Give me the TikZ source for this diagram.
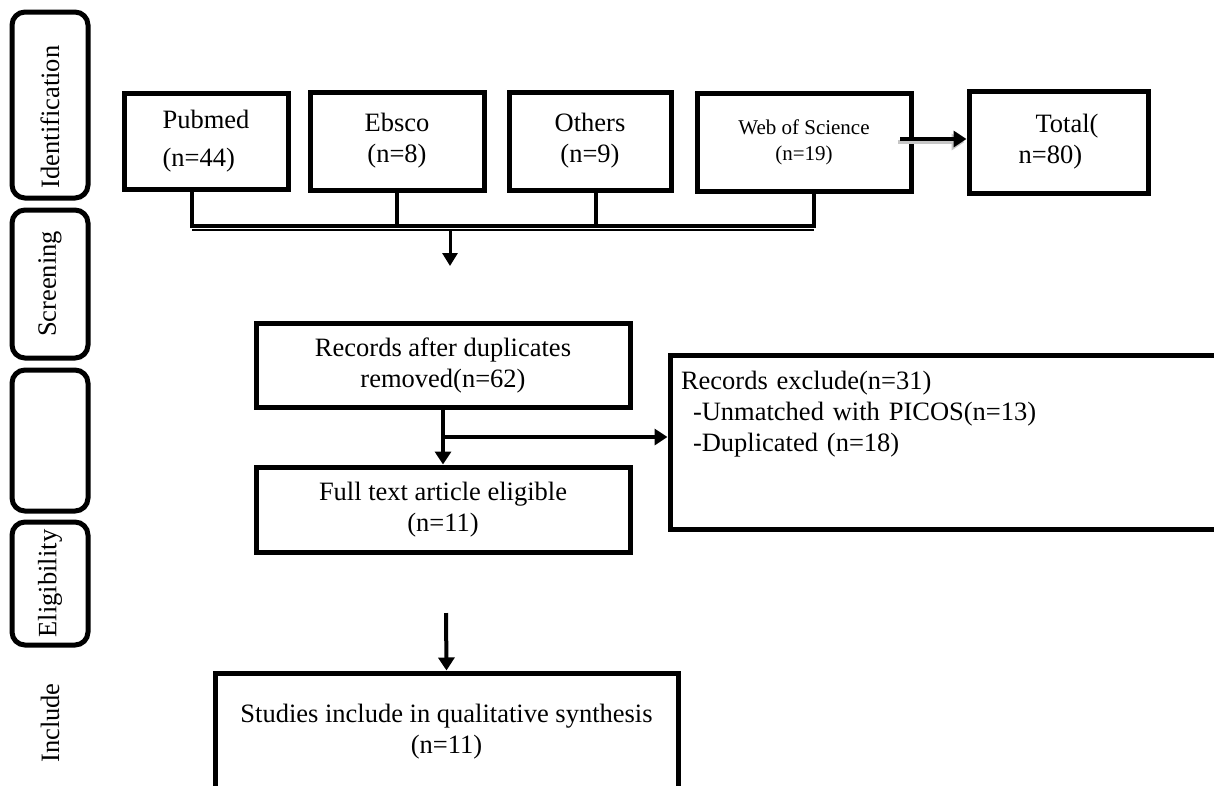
\documentclass[tikz,border=0pt]{standalone}
\usepackage{fontspec}
\setmainfont{Liberation Serif}
\usetikzlibrary{arrows.meta}

\begin{document}
\begin{tikzpicture}[x=1pt, y=-1pt,
  every node/.style={font=\fontsize{26.5}{31}\selectfont, inner sep=0pt},
  src/.style={draw, line width=5pt, align=center},
  stage/.style={draw, line width=5pt, rounded corners=13pt, rotate=90, minimum height=76pt},
  conn/.style={line width=4pt},
  arr/.style={line width=4pt, -{Triangle[length=13pt, width=16pt]}}]

  \useasboundingbox (0,0) rectangle (1214,785);
  \clip (0,0) rectangle (1214,785);

  % Stages down the left side
  \node[stage, minimum width=186pt] (ident) at (50,105) {Identification\hspace*{24pt}};
  \node[stage, minimum width=148pt] (screen) at (50,284) {Screening};
  \node[stage, minimum width=141pt] (blank) at (50,440.5) {};
  \node[stage, minimum width=123pt] (elig) at (50,583.5) {Eligibility};
  \node[rotate=90] (incl) at (50,723) {Include};

  % Databases
  \node[src, align=left, minimum width=164pt, minimum height=96pt] (pubmed) at (206,141) {Pubmed\\[7pt](n=44)};
  \node[src, minimum width=174pt, minimum height=98pt] (ebsco) at (397,141) {Ebsco\\(n=8)};
  \node[src, minimum width=162pt, minimum height=98pt] (others) at (590,141) {Others\\(n=9)};
  \node[src, minimum width=214pt, minimum height=98pt, font=\fontsize{21}{26}\selectfont] (wos) at (804,142) {Web of Science\\(n=19)};
  \draw[line width=4pt] ([yshift=-3pt]wos.north west) -- ([yshift=-3pt]wos.north east);
  \node[src, align=left, minimum width=179pt, minimum height=102pt] (total) at (1058.5,142) {\hspace*{17pt}Total(\\n=80)};

  % Screening and eligibility
  \node[src, minimum width=374pt, minimum height=84pt] (records) at (443,365) {Records after duplicates\\removed(n=62)};
  \node[src, minimum width=374pt, minimum height=85pt] (fulltext) at (443,509.5) {Full text article eligible\\(n=11)};
  \node[src, align=left, text width=548pt, minimum width=570pt, minimum height=174pt] (exclude) at (955,442)
    {Records exclude(n=31)\\\hspace*{12pt}-Unmatched with PICOS(n=13)\\\hspace*{12pt}-Duplicated (n=18)\\\mbox{}\\\mbox{}};
  \node[src, minimum width=463pt, minimum height=117pt] (studies) at (446.5,731.5) {Studies include in qualitative synthesis\\(n=11)};

  % Bar joining the databases
  \coordinate (barL) at (192,225.5);
  \coordinate (barR) at (814,225.5);
  \draw[conn] (pubmed.south -| barL) -- (barL) -- (barR) -- (wos.south -| barR);
  \draw[conn] (ebsco.south) -- (ebsco.south |- barL);
  \draw[conn] ([xshift=6pt]others.south) -- ([xshift=6pt]others.south |- barL);
  \draw[line width=2pt] ([yshift=-4pt]barL) -- ([yshift=-4pt]barR);
  \coordinate (drop) at (450,229.5);
  \coordinate (dropEnd) at (450,266);
  \draw[line width=3pt, -{Triangle[length=13pt, width=15pt]}] (drop) -- (dropEnd);

  % WoS to total, with a grey shadow
  \coordinate (wosOut) at (900,139);
  \coordinate (wosIn) at (total.west |- wosOut);
  \draw[arr, gray!45] ([xshift=-2pt, yshift=-3pt]wosOut) -- ([xshift=-2pt, yshift=-3pt]wosIn);
  \draw[arr] (wosOut) -- (wosIn);

  % Flow down the middle
  \draw[arr] (records.south) -- (fulltext.north);
  \coordinate (split) at (443,437);
  \draw[arr] (split) -- (exclude.west |- split);
  \coordinate (toStudies) at (446,613);
  \draw[arr] (toStudies) -- (studies.north);

\end{tikzpicture}
\end{document}
